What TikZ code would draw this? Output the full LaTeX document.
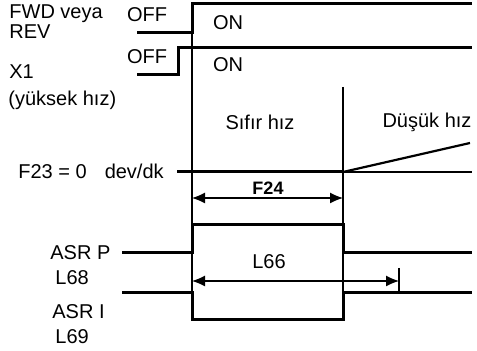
\documentclass[tikz,border=0pt]{standalone}
\usepackage{fontspec}
\setmainfont{Liberation Sans}
\usetikzlibrary{arrows.meta}

\begin{document}
\begin{tikzpicture}[x=0.5pt,y=-0.5pt,line cap=butt,line join=miter,
  sig/.style={line width=1.5pt},
  guide/.style={line width=0.6pt},
  span/.style={line width=0.6pt,{Latex[length=6.5pt,width=5.5pt]}-{Latex[length=6.5pt,width=5.5pt]}},
  lbl/.style={inner sep=0pt,font=\fontsize{10}{12}\selectfont}]
  % run command and X1 on top, speed reference in the middle, ASR gain switching at the bottom
  \useasboundingbox (0,0) rectangle (477,351);
  \def\ta{192}
  \def\tb{343}
  \def\xe{472}
  \draw[guide] (\ta,4) -- (\ta,320);
  \draw[guide] (\tb,87) -- (\tb,320);
  \draw[sig] (137,33) -- (\ta,33) -- (\ta,4) -- (\xe,4);
  \draw[sig] (137,75) -- (178,75) -- (178,48) -- (\xe,48);
  \draw[sig] (177,172) -- (\tb,172);
  \draw[guide] (\tb,172) -- (\xe,172);
  \draw[line width=1.1pt] (\tb,172) -- (470,143);
  \draw[sig] (122,253) -- (\ta,253) -- (\ta,225) -- (\tb,225) -- (\tb,253) -- (\xe,253);
  \draw[sig] (122,293) -- (\ta,293) -- (\ta,320) -- (\tb,320) -- (\tb,293) -- (\xe,293);
  % dimension arrows
  \coordinate (f24l) at (\ta,198);
  \coordinate (f24r) at (\tb,198);
  \coordinate (l66l) at (\ta,281);
  \coordinate (l66r) at (399,281);
  \draw[span] (f24l) -- (f24r);
  \draw[span] (l66l) -- (l66r);
  \draw[guide] (399,268) -- (399,292);
  % labels
  \node[lbl,anchor=west] (fwd) at (9,14) {FWD veya};
  \node[lbl,anchor=west] (rev) at (9,32) {REV};
  \node[lbl,anchor=west] (x1) at (9,72) {X1};
  \node[lbl,anchor=west] (x1txt) at (8,100) {(yüksek hız)};
  \node[lbl] (off1) at (147,15) {OFF};
  \node[lbl] (off2) at (147,57) {OFF};
  \node[lbl] (on1) at (228,23) {ON};
  \node[lbl] (on2) at (228,65) {ON};
  \node[lbl] (zero) at (260,122) {Sıfır hız};
  \node[lbl] (low) at (427,122) {Düşük hız};
  \node[lbl,anchor=west] (f23) at (18,171) {F23 = 0\hspace{9pt}dev/dk};
  \node[inner sep=0pt,font=\fontsize{9}{10}\selectfont\bfseries] (f24) at (268,188) {F24};
  \node[lbl] (l66) at (269,262) {L66};
  \node[lbl,anchor=west] (asrp) at (50,253) {ASR P};
  \node[lbl,anchor=west] (l68) at (55,278) {L68};
  \node[lbl,anchor=west] (asri) at (52,312) {ASR I};
  \node[lbl,anchor=west] (l69) at (55,337) {L69};
\end{tikzpicture}
\end{document}
